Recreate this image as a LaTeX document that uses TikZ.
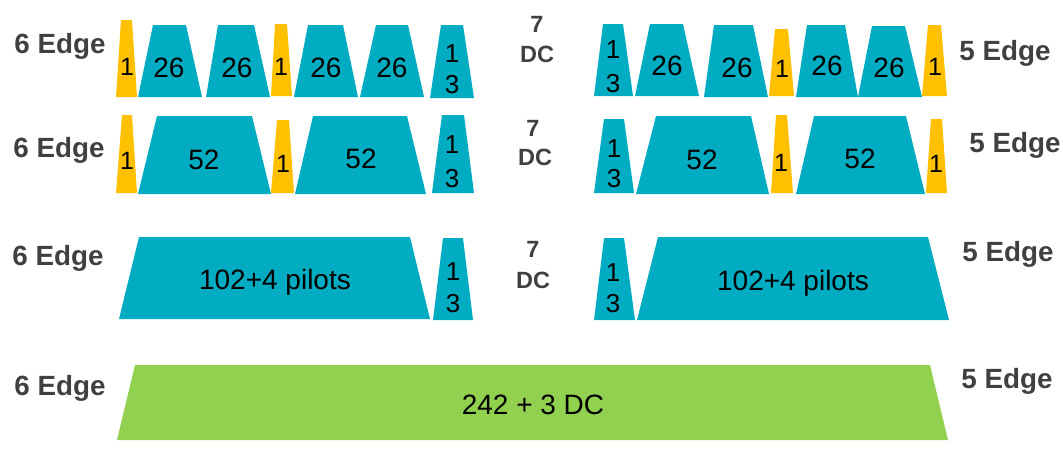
\documentclass[tikz,border=0pt]{standalone}
\usepackage{fontspec}
\setmainfont{Liberation Sans}
\definecolor{tealc}{RGB}{0,172,193}
\definecolor{yelc}{RGB}{255,192,0}
\definecolor{grnc}{RGB}{146,208,80}
\definecolor{labc}{RGB}{64,64,64}
\newcommand\trap[7]{\fill[#1] (#2,#4) -- (#3,#4) -- (#6,#7) -- (#5,#7) -- cycle;}
\tikzset{
  lab/.style={anchor=base, text=labc, font=\fontsize{27.8}{30}\selectfont\bfseries, inner sep=0pt},
  dc/.style={anchor=base, text=labc, font=\fontsize{23.5}{26}\selectfont\bfseries, inner sep=0pt},
  num/.style={anchor=base, font=\fontsize{28}{30}\selectfont, inner sep=0pt},
  one/.style={anchor=base, font=\fontsize{25}{28}\selectfont, inner sep=0pt},
  stk/.style={anchor=base, font=\fontsize{26}{28}\selectfont, inner sep=0pt}
}
\begin{document}
\begin{tikzpicture}[x=1pt,y=-1pt]
\useasboundingbox (0,0) rectangle (1063,455);
% ---------- Row 1 ----------
\trap{yelc}{121}{132}{20}{116}{137}{97}
\trap{tealc}{153}{186}{25}{138}{202}{97}
\trap{tealc}{218}{254}{25}{206}{270}{97}
\trap{yelc}{275}{287}{24}{271}{292}{96}
\trap{tealc}{308}{343}{25}{294}{358}{97}
\trap{tealc}{376}{408}{25}{360}{424}{97}
\trap{tealc}{441}{463}{25}{430}{474}{98}
\trap{tealc}{603}{623}{24}{594}{633}{96}
\trap{tealc}{650}{683}{24}{635}{699}{96}
\trap{tealc}{714}{753}{25}{704}{768}{97}
\trap{yelc}{775}{788}{29}{769}{794}{96}
\trap{tealc}{807}{845}{25}{796}{858}{97}
\trap{tealc}{872}{905}{26}{858}{922}{97}
\trap{yelc}{928}{941}{25}{922}{947}{96}
\node[lab] (e6a) at (60,53) {6 Edge};
\node[one] (r1a) at (127,75) {1};
\node[num] (r1b) at (169,77) {26};
\node[num] (r1c) at (237,77) {26};
\node[one] (r1d) at (281,75) {1};
\node[num] (r1e) at (326,77) {26};
\node[num] (r1f) at (392,77) {26};
\node[stk] (r1g) at (452,62) {1};
\node[stk] (r1h) at (452,93) {3};
\node[dc] (s7a) at (537,32) {7};
\node[dc] (dca) at (537,62) {DC};
\node[stk] (r1i) at (613,58) {1};
\node[stk] (r1j) at (613,92) {3};
\node[num] (r1k) at (667,75) {26};
\node[num] (r1l) at (737,77) {26};
\node[one] (r1m) at (782,77) {1};
\node[num] (r1n) at (827,75) {26};
\node[num] (r1o) at (889,77) {26};
\node[one] (r1p) at (935,75) {1};
\node[lab] (e5a) at (1005,60) {5 Edge};
% ---------- Row 2 ----------
\trap{yelc}{122}{132}{115}{116}{137}{193}
\trap{tealc}{157}{252}{116}{138}{271}{194}
\trap{yelc}{277}{289}{120}{271}{294}{193}
\trap{tealc}{313}{407}{116}{295}{426}{194}
\trap{tealc}{442}{464}{115}{432}{474}{193}
\trap{tealc}{604}{624}{119}{594}{634}{193}
\trap{tealc}{656}{751}{116}{636}{769}{194}
\trap{yelc}{776}{787}{115}{771}{793}{193}
\trap{tealc}{814}{906}{116}{796}{925}{194}
\trap{yelc}{931}{942}{119}{926}{947}{193}
\node[lab] (e6b) at (59,157) {6 Edge};
\node[one] (r2a) at (127,169) {1};
\node[num] (r2b) at (204,169) {52};
\node[one] (r2c) at (283,172) {1};
\node[num] (r2d) at (361,168) {52};
\node[stk] (r2e) at (452,153) {1};
\node[stk] (r2f) at (452,187) {3};
\node[dc] (s7b) at (533,136) {7};
\node[dc] (dcb) at (535,165) {DC};
\node[stk] (r2g) at (614,157) {1};
\node[stk] (r2h) at (614,187) {3};
\node[num] (r2i) at (702,169) {52};
\node[one] (r2j) at (781,171) {1};
\node[num] (r2k) at (860,168) {52};
\node[one] (r2l) at (936,172) {1};
\node[lab] (e5b) at (1015,152) {5 Edge};
% ---------- Row 3 ----------
\trap{tealc}{139}{410}{237}{119}{430}{319}
\trap{tealc}{443}{463}{238}{433}{473}{320}
\trap{tealc}{604}{624}{238}{594}{635}{320}
\trap{tealc}{658}{928}{237}{637}{949}{320}
\node[lab] (e6c) at (58,265) {6 Edge};
\node[num] (r3a) at (275,289) {102+4 pilots};
\node[stk] (r3b) at (453,280) {1};
\node[stk] (r3c) at (453,312) {3};
\node[dc] (s7c) at (533,257) {7};
\node[dc] (dcc) at (533,288) {DC};
\node[stk] (r3d) at (613,281) {1};
\node[stk] (r3e) at (613,312) {3};
\node[num] (r3f) at (793,290) {102+4 pilots};
\node[lab] (e5c) at (1008,261) {5 Edge};
% ---------- Row 4 ----------
\trap{grnc}{135}{930}{365}{117}{948}{440}
\node[lab] (e6d) at (60,395) {6 Edge};
\node[num] (r4a) at (533,414) {242 + 3 DC};
\node[lab] (e5d) at (1007,388) {5 Edge};
\end{tikzpicture}
\end{document}
